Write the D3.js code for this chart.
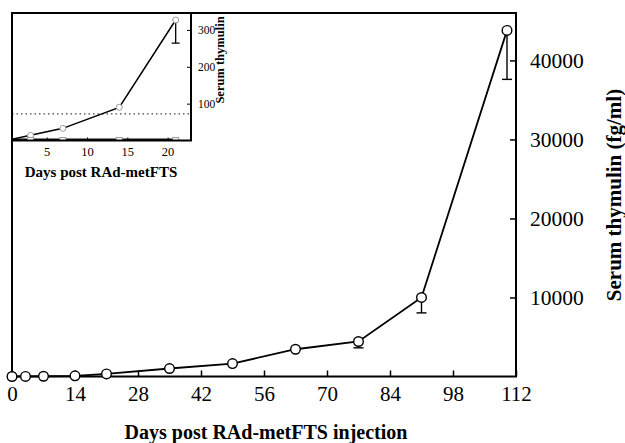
<!DOCTYPE html>
<html>
<head>
<meta charset="utf-8">
<script src="https://cdnjs.cloudflare.com/ajax/libs/d3/7.8.5/d3.min.js"></script>
<style>
  body { margin: 0; background: #fff; }
  svg { display: block; font-family: "Liberation Serif", "DejaVu Serif", serif; }
</style>
</head>
<body>
<svg id="chart" width="625" height="443"></svg>
<script>
// main series: days after injection, serum thymulin (fg/ml)
const days = [0, 3, 7, 14, 21, 35, 49, 63, 77, 91, 110];
const thymulin = [0, 14, 33, 90, 330, 1010, 1640, 3450, 4430, 10000, 43800];
const errLow = [null, null, null, null, null, null, null, null, 3630, 8050, 37600];
const xTicks = [0, 14, 28, 42, 56, 70, 84, 98, 112];
const yTicks = [10000, 20000, 30000, 40000];

// inset: first three weeks
const insetDays = [0, 3, 7, 14, 21];
const insetTreated = [0, 14, 33, 90, 327];
const insetErrLow = [null, null, null, null, 264];
const insetControlDays = [0, 3, 7, 14, 21];
const insetControl = [0, 0, 0, 0, 0];
const insetThreshold = 72;
const insetXTicks = [5, 10, 15, 20];
const insetYTicks = [100, 200, 300];

const svg = d3.select("#chart");

const L = 12, R = 516, T = 13, B = 376.5;
const x = d3.scaleLinear().domain([0, 112]).range([L, R]);
const y = d3.scaleLinear().domain([0, 46000]).range([B, T]);

// frame
svg.append("rect")
  .attr("x", L).attr("y", T).attr("width", R - L).attr("height", B - T)
  .attr("fill", "none").attr("stroke", "#000").attr("stroke-width", 2);

// x axis, ticks pointing in
const xAxis = svg.append("g").attr("transform", `translate(0,${B})`)
  .call(d3.axisBottom(x).tickValues(xTicks).tickSizeInner(-6).tickSizeOuter(0).tickPadding(10));
xAxis.select(".domain").remove();
xAxis.selectAll("line").attr("stroke-width", 1.5);
xAxis.selectAll("text").attr("font-size", 21).attr("fill", "#000")
  .attr("font-family", "Liberation Serif");

// right y axis, ticks pointing in
const yAxis = svg.append("g").attr("transform", `translate(${R},0)`)
  .call(d3.axisRight(y).tickValues(yTicks).tickSizeInner(-6).tickSizeOuter(0).tickPadding(14)
    .tickFormat(d3.format("d")));
yAxis.select(".domain").remove();
yAxis.selectAll("line").attr("stroke-width", 1.5);
yAxis.selectAll("text").attr("font-size", 21.5).attr("fill", "#000")
  .attr("font-family", "Liberation Serif");

// error bars (lower only)
const pts = days.map((d, i) => ({ d, v: thymulin[i], lo: errLow[i] }));
const eb = svg.append("g").attr("stroke", "#000").attr("stroke-width", 1.4);
pts.filter(p => p.lo != null).forEach(p => {
  eb.append("line").attr("x1", x(p.d)).attr("x2", x(p.d)).attr("y1", y(p.v)).attr("y2", y(p.lo));
  eb.append("line").attr("x1", x(p.d) - 5).attr("x2", x(p.d) + 5).attr("y1", y(p.lo)).attr("y2", y(p.lo));
});

svg.append("path").datum(pts)
  .attr("fill", "none").attr("stroke", "#000").attr("stroke-width", 1.8)
  .attr("d", d3.line().x(p => x(p.d)).y(p => y(p.v)));

svg.append("g").selectAll("circle").data(pts).join("circle")
  .attr("cx", p => x(p.d)).attr("cy", p => y(p.v)).attr("r", 4.8)
  .attr("fill", "#fff").attr("stroke", "#000").attr("stroke-width", 1.4);

// axis titles
svg.append("text")
  .attr("x", 266).attr("y", 439).attr("text-anchor", "middle")
  .attr("font-size", 20).attr("font-weight", "bold").text("Days post RAd-metFTS injection");
svg.append("text")
  .attr("transform", "translate(621,195) rotate(-90)").attr("text-anchor", "middle")
  .attr("font-size", 21).attr("font-weight", "bold").text("Serum thymulin (fg/ml)");

// ---- inset ----
const iL = 12, iR = 191, iT = 13, iB = 140.5;
const ix = d3.scaleLinear().domain([0.7, 22.9]).range([iL, iR]);
const iy = d3.scaleLinear().domain([0, 346]).range([iB, iT]);
const inset = svg.append("g");

inset.append("rect")
  .attr("x", iL).attr("y", iT).attr("width", iR - iL).attr("height", iB - iT)
  .attr("fill", "#fff").attr("stroke", "none");

svg.append("defs").append("clipPath").attr("id", "insetClip")
  .append("rect").attr("x", iL).attr("y", iT).attr("width", iR - iL).attr("height", iB - iT);

const ixAxis = inset.append("g").attr("transform", `translate(0,${iB})`)
  .call(d3.axisBottom(ix).tickValues(insetXTicks).tickSizeInner(-3).tickSizeOuter(0).tickPadding(7));
ixAxis.select(".domain").remove();
ixAxis.selectAll("text").attr("font-size", 12.5).attr("fill", "#000").attr("font-family", "Liberation Serif");

const iyAxis = inset.append("g").attr("transform", `translate(${iR},0)`)
  .call(d3.axisRight(iy).tickValues(insetYTicks).tickSizeInner(-4).tickSizeOuter(0).tickPadding(7));
iyAxis.select(".domain").remove();
iyAxis.selectAll("text").attr("font-size", 11.5).attr("fill", "#000").attr("font-family", "Liberation Serif");

const plot = inset.append("g").attr("clip-path", "url(#insetClip)");

plot.append("line")
  .attr("x1", iL).attr("x2", iR).attr("y1", iy(insetThreshold)).attr("y2", iy(insetThreshold))
  .attr("stroke", "#444").attr("stroke-width", 1.2).attr("stroke-dasharray", "1.5,3");

const ctrl = insetControlDays.map((d, i) => ({ d, v: insetControl[i] }));
plot.append("path").datum(ctrl)
  .attr("fill", "none").attr("stroke", "#111").attr("stroke-width", 4)
  .attr("d", d3.line().x(p => ix(p.d)).y(p => iy(p.v)));

const tr = insetDays.map((d, i) => ({ d, v: insetTreated[i], lo: insetErrLow[i] }));
tr.filter(p => p.lo != null).forEach(p => {
  plot.append("line").attr("x1", ix(p.d)).attr("x2", ix(p.d)).attr("y1", iy(p.v)).attr("y2", iy(p.lo))
    .attr("stroke", "#000").attr("stroke-width", 1.3);
  plot.append("line").attr("x1", ix(p.d) - 4).attr("x2", ix(p.d) + 4).attr("y1", iy(p.lo)).attr("y2", iy(p.lo))
    .attr("stroke", "#000").attr("stroke-width", 1.3);
});
plot.append("path").datum(tr)
  .attr("fill", "none").attr("stroke", "#000").attr("stroke-width", 1.5)
  .attr("d", d3.line().x(p => ix(p.d)).y(p => iy(p.v)));
plot.selectAll("circle.tr").data(tr.slice(1)).join("circle").attr("class", "tr")
  .attr("cx", p => ix(p.d)).attr("cy", p => iy(p.v)).attr("r", 3)
  .attr("fill", "#fff").attr("stroke", "#999").attr("stroke-width", 1);

plot.selectAll("rect.ctrl").data(ctrl.slice(1)).join("rect").attr("class", "ctrl")
  .attr("x", p => ix(p.d) - 3).attr("y", p => iy(p.v) - 3).attr("width", 6).attr("height", 6)
  .attr("fill", "#fff").attr("stroke", "#999").attr("stroke-width", 1);

inset.append("rect")
  .attr("x", iL).attr("y", iT).attr("width", iR - iL).attr("height", iB - iT)
  .attr("fill", "none").attr("stroke", "#000").attr("stroke-width", 2);

inset.append("text")
  .attr("x", 101).attr("y", 177).attr("text-anchor", "middle")
  .attr("font-size", 15).attr("font-weight", "bold").text("Days post RAd-metFTS");
inset.append("text")
  .attr("transform", "translate(224,60) rotate(-90)").attr("text-anchor", "middle")
  .attr("font-size", 12.5).attr("font-weight", "bold").text("Serum thymulin");
</script>
</body>
</html>
